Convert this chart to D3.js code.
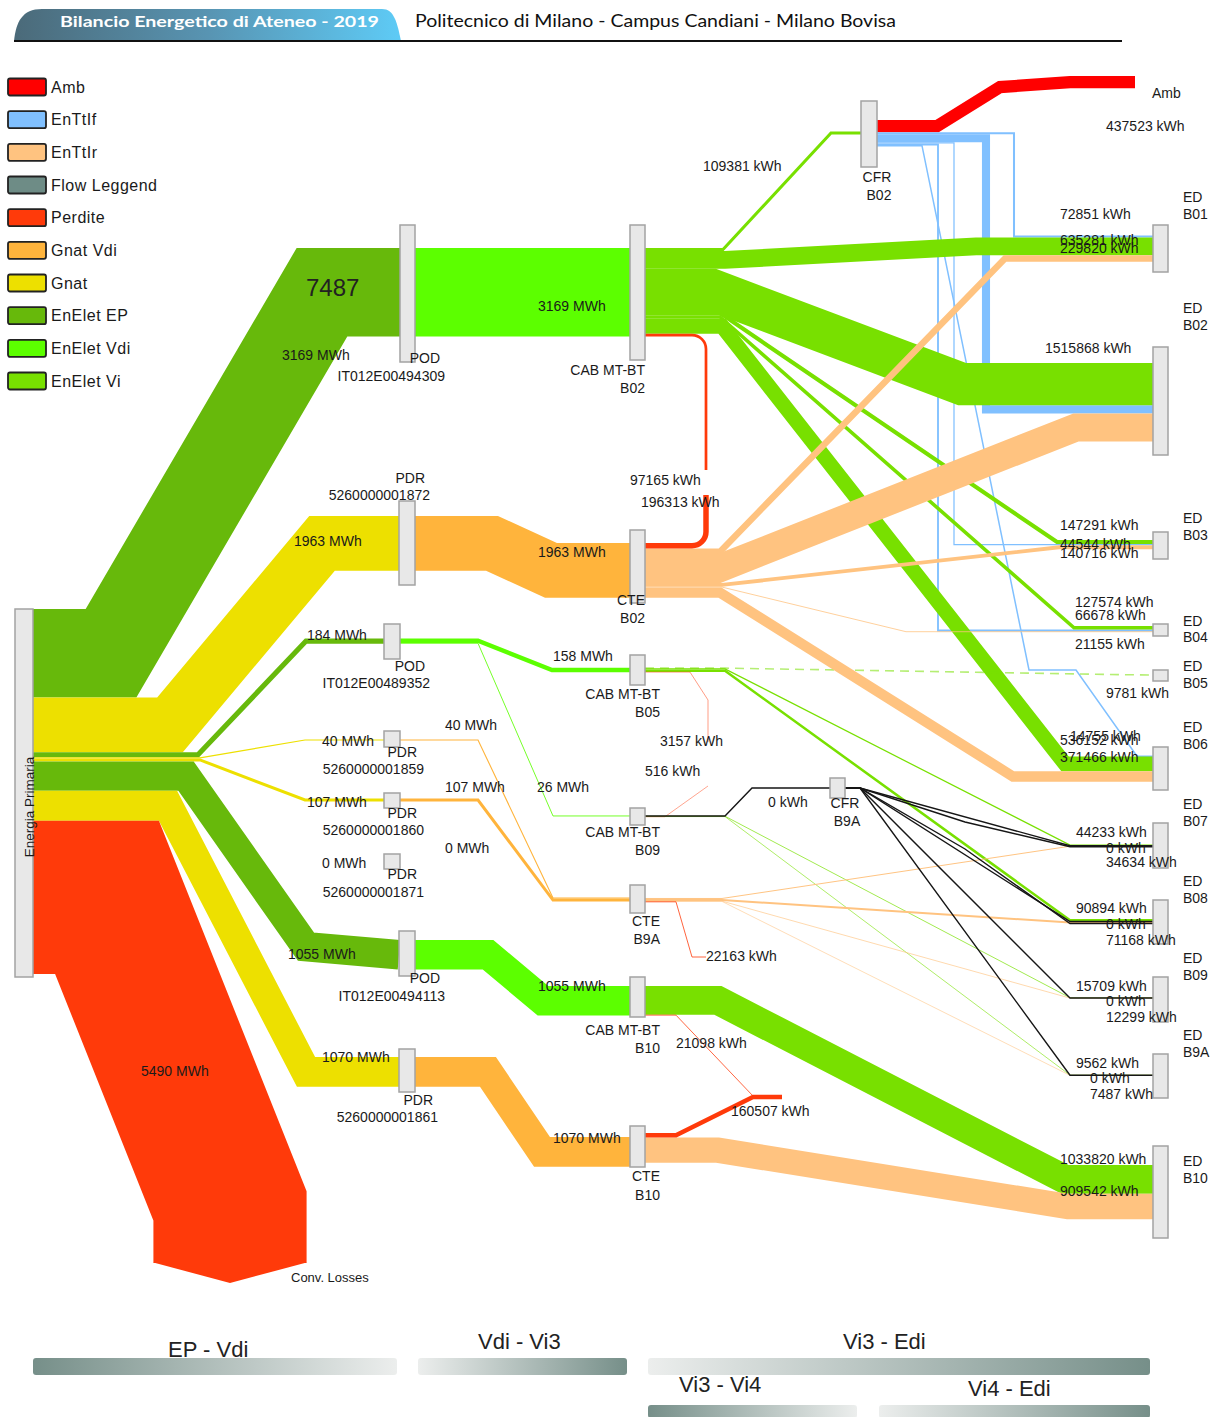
<!DOCTYPE html>
<html><head><meta charset="utf-8">
<script src="https://cdn.jsdelivr.net/npm/d3@7"></script>
<style>
body{margin:0;background:#fff;}
svg text{font-family:"Liberation Sans",Arial,sans-serif;fill:#1a1a1a;}
</style></head><body>
<svg id="c" width="1215" height="1417"></svg>
<script>
// ---------------- DATA ----------------
const legendTypes = ["Amb","EnTtIf","EnTtIr","Flow Leggend","Perdite","Gnat Vdi","Gnat","EnElet EP","EnElet Vdi","EnElet Vi"];
const stageNames = ["EP - Vdi","Vdi - Vi3","Vi3 - Edi","Vi3 - Vi4","Vi4 - Edi"];
const headerTitle = "Bilancio Energetico di Ateneo - 2019";
const headerSub = "Politecnico di Milano - Campus Candiani - Milano Bovisa";
const extraLabels = ["7487"];

const nodes = [
  ["EP",["Energia Primaria"]],
  ["POD1",["POD","IT012E00494309"]],
  ["PDR1872",["PDR","5260000001872"]],
  ["POD2",["POD","IT012E00489352"]],
  ["PDR1859",["PDR","5260000001859"]],
  ["PDR1860",["PDR","5260000001860"]],
  ["PDR1871",["PDR","5260000001871"]],
  ["POD3",["POD","IT012E00494113"]],
  ["PDR1861",["PDR","5260000001861"]],
  ["CAB_B02",["CAB MT-BT","B02"]],
  ["CTE_B02",["CTE","B02"]],
  ["CAB_B05",["CAB MT-BT","B05"]],
  ["CAB_B09",["CAB MT-BT","B09"]],
  ["CTE_B9A",["CTE","B9A"]],
  ["CAB_B10",["CAB MT-BT","B10"]],
  ["CTE_B10",["CTE","B10"]],
  ["CFR_B02",["CFR","B02"]],
  ["CFR_B9A",["CFR","B9A"]],
  ["ED_B01",["ED","B01"]],["ED_B02",["ED","B02"]],["ED_B03",["ED","B03"]],["ED_B04",["ED","B04"]],
  ["ED_B05",["ED","B05"]],["ED_B06",["ED","B06"]],["ED_B07",["ED","B07"]],["ED_B08",["ED","B08"]],
  ["ED_B09",["ED","B09"]],["ED_B9A",["ED","B9A"]],["ED_B10",["ED","B10"]],
  ["Amb",["Amb"]],
  ["Conv",["Conv. Losses"]],
  ["L_CAB_B02",[]],["L_CTE_B02",[]],["L_CAB_B05",[]],["L_CAB_B09",[]],
  ["L_CTE_B9A",[]],["L_CAB_B10",[]],["L_CTE_B10",[]]
];

// [source, target, value in kWh, type]
const flowsEP = [
  ["EP","POD1",3169000,"EnElet EP"],
  ["EP","PDR1872",1963000,"Gnat"],
  ["EP","POD2",184000,"EnElet EP"],
  ["EP","PDR1859",40000,"Gnat"],
  ["EP","PDR1860",107000,"Gnat"],
  ["EP","PDR1871",0,"Gnat"],
  ["EP","POD3",1055000,"EnElet EP"],
  ["EP","PDR1861",1070000,"Gnat"],
  ["EP","Conv",5490000,"Perdite"]
];
const flowsVdi = [
  ["POD1","CAB_B02",3169000,"EnElet Vdi"],
  ["PDR1872","CTE_B02",1963000,"Gnat Vdi"],
  ["POD2","CAB_B05",158000,"EnElet Vdi"],
  ["POD2","CAB_B09",26000,"EnElet Vdi"],
  ["PDR1859","CTE_B9A",40000,"Gnat Vdi"],
  ["PDR1860","CTE_B9A",107000,"Gnat Vdi"],
  ["PDR1871","CTE_B9A",0,"Gnat Vdi"],
  ["POD3","CAB_B10",1055000,"EnElet Vdi"],
  ["PDR1861","CTE_B10",1070000,"Gnat Vdi"]
];
const flowsVi = [
  ["CAB_B02","CFR_B02",109381,"EnElet Vi"],
  ["CAB_B02","ED_B01",635281,"EnElet Vi"],
  ["CAB_B02","ED_B02",1515868,"EnElet Vi"],
  ["CAB_B02","ED_B03",147291,"EnElet Vi"],
  ["CAB_B02","ED_B04",127574,"EnElet Vi"],
  ["CAB_B02","ED_B06",536152,"EnElet Vi"],
  ["CAB_B02","L_CAB_B02",97165,"Perdite"],
  ["CTE_B02","L_CTE_B02",196313,"Perdite"],
  ["CTE_B02","ED_B01",229820,"EnTtIr"],
  ["CTE_B02","ED_B02",1003530,"EnTtIr"],
  ["CTE_B02","ED_B03",140716,"EnTtIr"],
  ["CTE_B02","ED_B04",21155,"EnTtIr"],
  ["CTE_B02","ED_B06",371466,"EnTtIr"],
  ["CFR_B02","Amb",437523,"Amb"],
  ["CFR_B02","ED_B01",72851,"EnTtIf"],
  ["CFR_B02","ED_B02",290000,"EnTtIf"],
  ["CFR_B02","ED_B03",44544,"EnTtIf"],
  ["CFR_B02","ED_B04",66678,"EnTtIf"],
  ["CFR_B02","ED_B06",14755,"EnTtIf"],
  ["CAB_B05","ED_B05",9781,"EnElet Vi"],
  ["CAB_B05","ED_B07",44233,"EnElet Vi"],
  ["CAB_B05","ED_B08",90894,"EnElet Vi"],
  ["CAB_B05","L_CAB_B05",3157,"Perdite"],
  ["CAB_B09","CFR_B9A",0,"EnElet Vi"],
  ["CAB_B09","ED_B09",15709,"EnElet Vi"],
  ["CAB_B09","ED_B9A",9562,"EnElet Vi"],
  ["CAB_B09","L_CAB_B09",516,"Perdite"],
  ["CTE_B9A","ED_B07",34634,"EnTtIr"],
  ["CTE_B9A","ED_B08",71168,"EnTtIr"],
  ["CTE_B9A","ED_B09",12299,"EnTtIr"],
  ["CTE_B9A","ED_B9A",7487,"EnTtIr"],
  ["CTE_B9A","L_CTE_B9A",22163,"Perdite"],
  ["CFR_B9A","ED_B07",0,"EnTtIf"],
  ["CFR_B9A","ED_B07",0,"EnTtIr"],
  ["CFR_B9A","ED_B08",0,"EnTtIf"],
  ["CFR_B9A","ED_B08",0,"EnTtIr"],
  ["CFR_B9A","ED_B09",0,"EnTtIf"],
  ["CFR_B9A","ED_B9A",0,"EnTtIf"],
  ["CAB_B10","ED_B10",1033820,"EnElet Vi"],
  ["CAB_B10","L_CAB_B10",21098,"Perdite"],
  ["CTE_B10","L_CTE_B10",160507,"Perdite"],
  ["CTE_B10","ED_B10",909542,"EnTtIr"]
];
const mwhSources = ["EP","POD1","PDR1872","POD2","PDR1859","PDR1860","PDR1871","POD3","PDR1861"];

// ---------------- STYLE / LAYOUT ----------------
const typeColor = {
  "Amb":"#ff0000","EnTtIf":"#80c0ff","EnTtIr":"#ffc380","Flow Leggend":"#6e8c86",
  "Perdite":"#ff3a0a","Gnat Vdi":"#ffb43c","Gnat":"#ede000","EnElet EP":"#67b90b",
  "EnElet Vdi":"#5cff00","EnElet Vi":"#78e000"
};
const drawLayer = {"Amb":0,"EnTtIf":1,"EnElet EP":2,"Gnat":2,"EnElet Vdi":3,"Gnat Vdi":3,"EnElet Vi":4,"EnTtIr":5,"Perdite":6};
const inSlot = {"EnElet Vi":1,"EnTtIf":2,"EnTtIr":3};

const nodeLayout = {
  EP:{x:15,y:609,w:18,h:368,outY:609},
  POD1:{x:400,y:225,w:15,h:137,inY:248,outY:248},
  PDR1872:{x:399,y:501,w:16,h:84,inY:516,outY:516},
  POD2:{x:384,y:624,w:16,h:35,inY:638.5,outY:638.5},
  PDR1859:{x:384,y:731,w:16,h:16,inY:739.4,outY:739.4},
  PDR1860:{x:384,y:793,w:16,h:15,inY:798.5,outY:798.5},
  PDR1871:{x:384,y:854,w:16,h:15,inY:861,outY:861},
  POD3:{x:399,y:931,w:16,h:45,inY:940,outY:940},
  PDR1861:{x:399,y:1049,w:16,h:43,inY:1057,outY:1057},
  CAB_B02:{x:630,y:225,w:15,h:135,inY:248,outY:248},
  CTE_B02:{x:630,y:530,w:15,h:73,inY:543,outY:543},
  CAB_B05:{x:630,y:655,w:15,h:30,inY:667.8,outY:668},
  CAB_B09:{x:630,y:808,w:15,h:17,inY:815.6,outY:816},
  CTE_B9A:{x:630,y:885,w:15,h:28,inY:897.5,outY:898},
  CAB_B10:{x:630,y:977,w:15,h:40,inY:986,outY:986},
  CTE_B10:{x:630,y:1126,w:15,h:41,inY:1137,outY:1133},
  CFR_B02:{x:861,y:101,w:16,h:66,inY:131.5,outY:120},
  CFR_B9A:{x:830,y:778,w:15,h:20,inY:788,outY:788},
  ED_B01:{x:1153,y:225,w:15,h:47,inY:235.5},
  ED_B02:{x:1153,y:347,w:15,h:108,inY:363},
  ED_B03:{x:1153,y:532,w:15,h:27,inY:540},
  ED_B04:{x:1153,y:624,w:15,h:12,inY:626},
  ED_B05:{x:1153,y:670,w:15,h:11,inY:675},
  ED_B06:{x:1153,y:747,w:15,h:43,inY:756},
  ED_B07:{x:1153,y:823,w:15,h:45,inY:844.5},
  ED_B08:{x:1153,y:900,w:15,h:44,inY:919},
  ED_B09:{x:1153,y:977,w:15,h:45,inY:997.5},
  ED_B9A:{x:1153,y:1054,w:15,h:44,inY:1075},
  ED_B10:{x:1153,y:1146,w:15,h:92,inY:1165},
  Amb:{ex:1135,inY:76},
  Conv:{ex:230,ey:1263},
  L_CAB_B02:{ex:706,ey:470}, L_CTE_B02:{ex:706,ey:495}, L_CAB_B05:{ex:708,ey:742},
  L_CAB_B09:{ex:708,ey:786}, L_CTE_B9A:{ex:706,ey:957}, L_CAB_B10:{ex:753,ey:1096},
  L_CTE_B10:{ex:782,ey:1097}
};
// node label placement: [x1, y1, y2, anchor, x2, size]
const nodeLabelPos = {
  POD1:[440,358,376,"end",445], PDR1872:[425,478,495,"end",430], POD2:[425,666,683,"end",430],
  PDR1859:[417,752,769,"end",424], PDR1860:[417,813,830,"end",424], PDR1871:[417,874,892,"end",424],
  POD3:[440,978,996,"end",445], PDR1861:[433,1100,1117,"end",438],
  CAB_B02:[645,370,388,"end",645], CTE_B02:[645,600,618,"end",645], CAB_B05:[660,694,712,"end",660],
  CAB_B09:[660,832,850,"end",660], CTE_B9A:[660,921,939,"end",660], CAB_B10:[660,1030,1048,"end",660],
  CTE_B10:[660,1176,1195,"end",660], CFR_B02:[877,177,195,"middle",879], CFR_B9A:[845,803,821,"middle",847],
  ED_B01:[1183,197,214,"start",1183], ED_B02:[1183,308,325,"start",1183], ED_B03:[1183,518,535,"start",1183],
  ED_B04:[1183,621,637,"start",1183], ED_B05:[1183,666,683,"start",1183], ED_B06:[1183,727,744,"start",1183],
  ED_B07:[1183,804,821,"start",1183], ED_B08:[1183,881,898,"start",1183], ED_B09:[1183,958,975,"start",1183],
  ED_B9A:[1183,1035,1052,"start",1183], ED_B10:[1183,1161,1178,"start",1183],
  Amb:[1152,93,0,"start",0], Conv:[291,1277,0,"start",0,13]
};
const routes = {
  "EP>POD1":{b:[[111,"s"],[322,"t"]]},
  "EP>PDR1872":{b:[[170,"s"],[322,"t"]]},
  "EP>POD2":{b:[[198,"s"],[306,"t"]]},
  "EP>PDR1859":{b:[[200,"s"],[305,"t"]]},
  "EP>PDR1860":{b:[[200,"s"],[305,"t"]]},
  "EP>PDR1871":{hidden:true},
  "EP>POD3":{b:[[186,"s"],[306,"t-8"]]},
  "EP>PDR1861":{b:[[168,"s"],[306,"t"]]},
  "EP>Conv":{b:[[107,"s"],[230,1206]],arrow:true},
  "POD1>CAB_B02":{b:[]},
  "PDR1872>CTE_B02":{b:[[492,"s"],[551,"t"]]},
  "POD2>CAB_B05":{b:[[478,"s"],[552,"t"]]},
  "POD2>CAB_B09":{b:[[478,"s"],[553,"t"]]},
  "PDR1859>CTE_B9A":{b:[[478,"s"],[553,"t"]]},
  "PDR1860>CTE_B9A":{b:[[478,"s"],[553,"t"]]},
  "PDR1871>CTE_B9A":{hidden:true},
  "POD3>CAB_B10":{b:[[488,"s"],[543,"t"]]},
  "PDR1861>CTE_B10":{b:[[488,"s"],[542,"t"]]},
  "CAB_B02>CFR_B02":{b:[[723,"s"],[831,"t"]]},
  "CAB_B02>ED_B01":{b:[[725,"s"],[976,"t"]]},
  "CAB_B02>ED_B02":{b:[[712,"s"],[962,"t"]]},
  "CAB_B02>ED_B03":{b:[[720,"s"],[1057,"t"]]},
  "CAB_B02>ED_B04":{b:[[720,"s"],[1074,"t"]]},
  "CAB_B02>ED_B06":{b:[[722,"s"],[1065,"t"]]},
  "CAB_B02>L_CAB_B02":{b:[[706,"s"]],r:14},
  "CTE_B02>L_CTE_B02":{b:[[706,"s"]],r:14},
  "CTE_B02>ED_B01":{b:[[720,"s"],[1005,"t"]]},
  "CTE_B02>ED_B02":{b:[[718,"s"],[1076,"t"]]},
  "CTE_B02>ED_B03":{b:[[722,"s"],[1059,"t"]]},
  "CTE_B02>ED_B04":{b:[[722,"s"],[906,"t"]]},
  "CTE_B02>ED_B06":{b:[[720,"s"],[1013,"t"]]},
  "CFR_B02>Amb":{b:[[937,"s"],[1000,"t+5"],[1070,"t"]]},
  "CFR_B02>ED_B01":{b:[[1014,"s"],[1014,"t"]],slot:0},
  "CFR_B02>ED_B02":{b:[[986,"s"],[986,"t"]]},
  "CFR_B02>ED_B03":{b:[[954,"s"],[954,"t"]]},
  "CFR_B02>ED_B04":{b:[[938,"s"],[938,"t"]]},
  "CFR_B02>ED_B06":{b:[[922,"s"],[1029,670],[1076,670],[1137,"t"]],slot:0,solid:true},
  "CAB_B05>ED_B05":{b:[[725,"s"]],dashed:true},
  "CAB_B05>ED_B07":{b:[[725,"s"],[1070,"t"]]},
  "CAB_B05>ED_B08":{b:[[725,"s"],[1070,"t"]]},
  "CAB_B05>L_CAB_B05":{b:[[690,"s"],[708,700]]},
  "CAB_B09>CFR_B9A":{b:[[725,"s"],[752,"t"]]},
  "CAB_B09>ED_B09":{b:[[725,"s"],[1070,"t"]]},
  "CAB_B09>ED_B9A":{b:[[725,"s"],[1070,"t"]]},
  "CAB_B09>L_CAB_B09":{b:[[665,"s"]]},
  "CTE_B9A>ED_B07":{b:[[722,"s"],[1070,"t"]]},
  "CTE_B9A>ED_B08":{b:[[722,"s"],[1070,"t"]]},
  "CTE_B9A>ED_B09":{b:[[722,"s"],[1070,"t"]]},
  "CTE_B9A>ED_B9A":{b:[[722,"s"],[1070,"t"]]},
  "CTE_B9A>L_CTE_B9A":{b:[[676,"s"],[692,957]]},
  "CFR_B9A>ED_B07":{b:[[860,"s"],[1070,"t"]]},
  "CFR_B9A>ED_B07>EnTtIr":{b:[[860,"s"],[965,822],[1070,"t"]]},
  "CFR_B9A>ED_B08":{b:[[860,"s"],[1070,"t"]]},
  "CFR_B9A>ED_B08>EnTtIr":{b:[[860,"s"],[965,849],[1070,"t"]]},
  "CFR_B9A>ED_B09":{b:[[860,"s"],[1070,"t"]]},
  "CFR_B9A>ED_B9A":{b:[[860,"s"],[1070,"t"]]},
  "CAB_B10>ED_B10":{b:[[718,"s"],[1065,"t"]]},
  "CAB_B10>L_CAB_B10":{b:[[676,"s"]]},
  "CTE_B10>L_CTE_B10":{b:[[676,"s"],[753,1097]]},
  "CTE_B10>ED_B10":{b:[[718,"s"],[1068,"t"]]}
};
const flowLabelPos = {
  "EP>POD1":[282,355],"EP>PDR1872":[294,541],"EP>POD2":[307,635],"EP>PDR1859":[322,741],
  "EP>PDR1860":[307,802],"EP>PDR1871":[322,863],"EP>POD3":[288,954],"EP>PDR1861":[322,1057],
  "EP>Conv":[141,1071],
  "POD1>CAB_B02":[538,306],"PDR1872>CTE_B02":[538,552],"POD2>CAB_B05":[553,656],"POD2>CAB_B09":[537,787],
  "PDR1859>CTE_B9A":[445,725],"PDR1860>CTE_B9A":[445,787],"PDR1871>CTE_B9A":[445,848],
  "POD3>CAB_B10":[538,986],"PDR1861>CTE_B10":[553,1138],
  "CAB_B02>CFR_B02":[703,166],"CAB_B02>ED_B01":[1060,240],"CAB_B02>ED_B02":[1045,348],
  "CAB_B02>ED_B03":[1060,525],"CAB_B02>ED_B04":[1075,602],"CAB_B02>ED_B06":[1060,740],
  "CAB_B02>L_CAB_B02":[630,480],"CTE_B02>L_CTE_B02":[641,502],
  "CTE_B02>ED_B01":[1060,248],"CTE_B02>ED_B03":[1060,553],"CTE_B02>ED_B04":[1075,644],"CTE_B02>ED_B06":[1060,757],
  "CFR_B02>Amb":[1106,126],"CFR_B02>ED_B01":[1060,214],"CFR_B02>ED_B03":[1060,544],
  "CFR_B02>ED_B04":[1075,615],"CFR_B02>ED_B06":[1070,736],
  "CAB_B05>ED_B05":[1106,693],"CAB_B05>ED_B07":[1076,832],"CAB_B05>ED_B08":[1076,908],"CAB_B05>L_CAB_B05":[660,741],
  "CAB_B09>CFR_B9A":[768,802],"CAB_B09>ED_B09":[1076,986],"CAB_B09>ED_B9A":[1076,1063],"CAB_B09>L_CAB_B09":[645,771],
  "CTE_B9A>ED_B07":[1106,862],"CTE_B9A>ED_B08":[1106,940],"CTE_B9A>ED_B09":[1106,1017],"CTE_B9A>ED_B9A":[1090,1094],
  "CTE_B9A>L_CTE_B9A":[706,956],
  "CFR_B9A>ED_B07":[1106,848],"CFR_B9A>ED_B08":[1106,924],"CFR_B9A>ED_B09":[1106,1001],"CFR_B9A>ED_B9A":[1090,1078],
  "CAB_B10>ED_B10":[1060,1159],"CAB_B10>L_CAB_B10":[676,1043],"CTE_B10>L_CTE_B10":[731,1111],"CTE_B10>ED_B10":[1060,1191]
};

// ---------------- DRAW ----------------
const svg = d3.select("#c");
const defs = svg.append("defs");
const k = d3.scaleLinear().domain([0,1e6]).range([0,27.9]);

// header
const hg = defs.append("linearGradient").attr("id","hg").attr("x1","0%").attr("x2","100%");
hg.append("stop").attr("offset","0%").attr("stop-color","#4b6a79");
hg.append("stop").attr("offset","50%").attr("stop-color","#5894b2");
hg.append("stop").attr("offset","100%").attr("stop-color","#5ecbf6");
svg.append("path").attr("d","M14,41 C16,22 22,9 42,9 L382,9 C394,9 397,22 401,41 Z").attr("fill","url(#hg)");
svg.append("text").attr("x",60).attr("y",27).attr("textLength",319).attr("lengthAdjust","spacingAndGlyphs")
  .style("font-family","Lato, 'Liberation Sans', sans-serif").style("font-weight","700").style("font-size","16px").style("fill","#fff")
  .text(headerTitle);
svg.append("text").attr("x",415).attr("y",27).attr("textLength",481).attr("lengthAdjust","spacingAndGlyphs")
  .style("font-family","Lato, 'Liberation Sans', sans-serif").style("font-size","16.5px").style("fill","#111")
  .text(headerSub);
svg.append("line").attr("x1",14).attr("x2",1122).attr("y1",41).attr("y2",41).attr("stroke","#111").attr("stroke-width",2);

// legend
const lg = svg.append("g");
legendTypes.forEach((t,i)=>{
  const cy = d3.scaleLinear().domain([0,9]).range([87,381])(i);
  lg.append("rect").attr("x",8).attr("y",cy-8.5).attr("width",38).attr("height",17).attr("rx",2)
    .attr("fill",typeColor[t]).attr("stroke","#222").attr("stroke-width",1.8);
  lg.append("text").attr("x",51).attr("y",cy).attr("dy","0.36em").style("font-size","16px").style("letter-spacing","0.5px").text(t);
});

// flows
const allFlows = [...flowsEP,...flowsVdi,...flowsVi].map((f,i)=>({i,s:f[0],t:f[1],v:f[2],type:f[3]}));
allFlows.forEach(f=>{
  f.key = f.s+">"+f.t;
  f.route = routes[f.key+">"+f.type] || routes[f.key] || {};
  if(!f.route.b) f.route.b = [];
  f.w = k(f.v);
});
const outCur = {}, inCur = {};
Object.keys(nodeLayout).forEach(id=>{outCur[id]=nodeLayout[id].outY; inCur[id]=nodeLayout[id].inY;});
allFlows.forEach(f=>{ f.ys = outCur[f.s] + f.w/2; outCur[f.s] += f.w; });
const byT = d3.group(allFlows, f=>f.t);
byT.forEach((arr,t)=>{
  const slotOf = f => f.route.slot!==undefined ? f.route.slot : (inSlot[f.type]!==undefined ? inSlot[f.type] : 1);
  arr.slice().sort((a,b)=>slotOf(a)-slotOf(b)||a.i-b.i).forEach(f=>{
    const base = inCur[t]!==undefined ? inCur[t] : 0;
    f.yt = base + f.w/2;
    if(inCur[t]!==undefined) inCur[t] += f.w;
  });
});
function yv(spec,f){
  if(typeof spec==="number") return spec;
  const base = spec[0]==="s" ? f.ys : f.yt;
  return base + (parseFloat(spec.slice(1))||0);
}
allFlows.forEach(f=>{
  const S = nodeLayout[f.s], T = nodeLayout[f.t];
  const p0 = [S.x+S.w, f.ys];
  const pe = T.ex!==undefined ? [T.ex, T.ey!==undefined ? T.ey : f.yt] : [T.x, f.yt];
  const pts = [p0, ...f.route.b.map(b=>[b[0], yv(b[1],f)]), pe];
  f.pts = pts.filter((p,i)=> i===0 || Math.abs(p[0]-pts[i-1][0])+Math.abs(p[1]-pts[i-1][1])>0.01);
});
function buildPath(pts,r){
  const p = d3.path();
  p.moveTo(pts[0][0],pts[0][1]);
  for(let i=1;i<pts.length-1;i++){
    if(r) p.arcTo(pts[i][0],pts[i][1],pts[i+1][0],pts[i+1][1],r); else p.lineTo(pts[i][0],pts[i][1]);
  }
  const l = pts[pts.length-1]; p.lineTo(l[0],l[1]);
  return p.toString();
}
const fg = svg.append("g");
const visible = allFlows.filter(f=>!f.route.hidden)
  .sort((a,b)=>((a.v===0?9:drawLayer[a.type])-(b.v===0?9:drawLayer[b.type]))||a.i-b.i);
visible.forEach(f=>{
  const zero = f.v===0;
  let sw = zero ? 1.4 : Math.max(f.w,1);
  let op = zero ? 1 : (f.w<1 ? 0.45+0.55*f.w : 1);
  if(f.route.solid){ sw = Math.max(f.w,1.5); op = 1; }
  if(f.route.dashed){ sw = 1.6; op = 0.55; }
  fg.append("path").attr("d",buildPath(f.pts,f.route.r||0))
    .attr("fill","none").attr("stroke", zero ? "#161616" : typeColor[f.type])
    .attr("stroke-width",sw).attr("stroke-opacity",op)
    .attr("stroke-linejoin","miter").attr("stroke-miterlimit",20)
    .attr("stroke-dasharray", f.route.dashed ? "9,6" : null);
  if(f.route.arrow){
    const l = f.pts[f.pts.length-1];
    fg.append("path").attr("d",d3.line()([[l[0]-f.w/2,l[1]-0.5],[l[0]+f.w/2,l[1]-0.5],[l[0],l[1]+20]]))
      .attr("fill",typeColor[f.type]);
  }
});

// nodes
const ng = svg.append("g");
nodes.forEach(([id,lines])=>{
  const L = nodeLayout[id];
  if(L.x===undefined) return;
  ng.append("rect").attr("x",L.x).attr("y",L.y).attr("width",L.w).attr("height",L.h)
    .attr("fill","#e8e8e8").attr("stroke","#a3a3a3").attr("stroke-width",1.5);
});
// node labels
const tg = svg.append("g");
nodes.forEach(([id,lines])=>{
  const P = nodeLabelPos[id];
  if(!P) return;
  const size = (P[5]||14)+"px";
  tg.append("text").attr("x",P[0]).attr("y",P[1]).attr("dy","0.36em").attr("text-anchor",P[3]).style("font-size",size).text(lines[0]);
  if(lines[1]) tg.append("text").attr("x",P[4]).attr("y",P[2]).attr("dy","0.36em").attr("text-anchor",P[3]).style("font-size",size).text(lines[1]);
});
// EP rotated label
tg.append("text").attr("transform","translate(29,807) rotate(-90)").attr("text-anchor","middle").attr("dy","0.36em")
  .style("font-size","13.5px").text(nodes[0][1][0]);
// flow labels (one per source>target)
const seen = new Set();
const mwh = new Set(mwhSources);
allFlows.forEach(f=>{
  if(seen.has(f.key)) return; seen.add(f.key);
  const P = flowLabelPos[f.key]; if(!P) return;
  const txt = mwh.has(f.s) ? Math.round(f.v/1000)+" MWh" : f.v+" kWh";
  tg.append("text").attr("x",P[0]).attr("y",P[1]).attr("dy","0.36em").style("font-size","14px").text(txt);
});
tg.append("text").attr("x",306).attr("y",287).attr("dy","0.36em").style("font-size","24px").style("fill","#222").text(extraLabels[0]);

// stage bars
function grad(id,c1,c2){
  const g = defs.append("linearGradient").attr("id",id).attr("x1","0%").attr("x2","100%");
  g.append("stop").attr("offset","0%").attr("stop-color",c1);
  g.append("stop").attr("offset","100%").attr("stop-color",c2);
}
grad("gDL","#768f89","#eceeed"); grad("gLD","#eceeed","#768f89");
const stageLayout = [
  {x:33,y:1358,w:364,h:17,g:"gDL",tx:168,ty:1357},
  {x:418,y:1358,w:209,h:17,g:"gLD",tx:478,ty:1349},
  {x:648,y:1358,w:502,h:17,g:"gLD",tx:843,ty:1349},
  {x:648,y:1405,w:209,h:13,g:"gDL",tx:679,ty:1392},
  {x:879,y:1405,w:271,h:13,g:"gLD",tx:968,ty:1396}
];
stageNames.forEach((n,i)=>{
  const L = stageLayout[i];
  svg.append("rect").attr("x",L.x).attr("y",L.y).attr("width",L.w).attr("height",L.h).attr("rx",3).attr("fill","url(#"+L.g+")");
  svg.append("text").attr("x",L.tx).attr("y",L.ty).style("font-size","22px").style("fill","#222").text(n);
});
</script>
</body></html>
